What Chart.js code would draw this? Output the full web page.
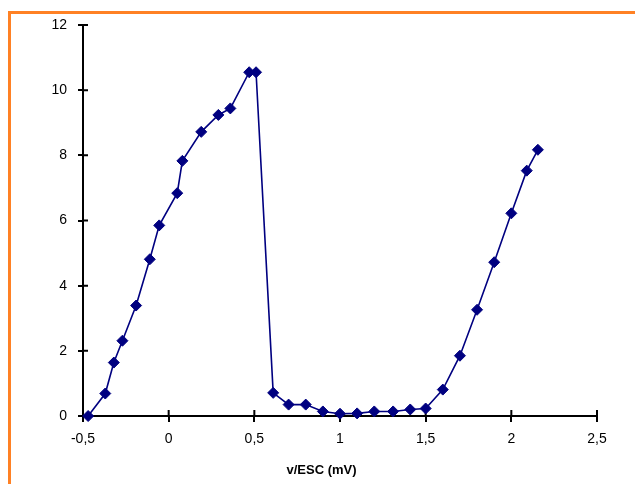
<!DOCTYPE html>
<html>
<head>
<meta charset="utf-8">
<script src="https://cdn.jsdelivr.net/npm/chart.js@4.4.1/dist/chart.umd.min.js"></script>
<style>
    html, body { margin: 0; padding: 0; background: #fff; }
    #wrap { position: relative; width: 635px; height: 484px; }
</style>
</head>
<body>
<div id="wrap"><canvas id="chart" width="635" height="484"></canvas></div>
<script>
// values
const potential = [-0.47, -0.37, -0.32, -0.27, -0.19, -0.11, -0.055, 0.05, 0.08, 0.19, 0.29, 0.36, 0.47, 0.51,
    0.61, 0.70, 0.80, 0.90, 1.00, 1.10, 1.20, 1.31, 1.41, 1.50, 1.60, 1.70, 1.80, 1.90, 2.00, 2.09, 2.155];
const current = [0, 0.69, 1.64, 2.31, 3.39, 4.81, 5.85, 6.84, 7.83, 8.72, 9.24, 9.44, 10.55, 10.55,
    0.71, 0.35, 0.35, 0.14, 0.07, 0.08, 0.14, 0.14, 0.2, 0.23, 0.81, 1.85, 3.26, 4.72, 6.22, 7.53, 8.17];
const xTicks = [-0.5, 0, 0.5, 1, 1.5, 2, 2.5];
const yTicks = [0, 2, 4, 6, 8, 10, 12];
const xTitle = "v/ESC (mV)";

const points = potential.map((v, i) => ({ x: v, y: current[i] }));
const FONT = "'Liberation Sans', Arial, sans-serif";
const commaLabel = v => String(Math.round(v * 10) / 10).replace(".", ",");

// orange frame of the original sheet (left + top edges)
const framePlugin = {
    id: "frame",
    beforeDraw(chart) {
        const ctx = chart.ctx;
        ctx.save();
        ctx.strokeStyle = "#ff8124";
        ctx.lineWidth = 3;
        ctx.beginPath();
        ctx.moveTo(9.5, chart.height);
        ctx.lineTo(9.5, 12.5);
        ctx.lineTo(chart.width, 12.5);
        ctx.stroke();
        ctx.restore();
    }
};

// inner half of the crossing tick marks
const innerTicks = {
    id: "innerTicks",
    beforeDatasetsDraw(chart) {
        const ctx = chart.ctx;
        const xs = chart.scales.x, ys = chart.scales.y;
        const area = chart.chartArea;
        ctx.save();
        ctx.strokeStyle = "#000";
        ctx.lineWidth = 2;
        ctx.beginPath();
        xTicks.forEach(t => {
            const px = xs.getPixelForValue(t);
            ctx.moveTo(px, area.bottom);
            ctx.lineTo(px, area.bottom - 6);
        });
        yTicks.forEach(t => {
            const py = ys.getPixelForValue(t);
            ctx.moveTo(area.left, py);
            ctx.lineTo(area.left + 5, py);
        });
        ctx.stroke();
        ctx.restore();
    }
};

new Chart(document.getElementById("chart"), {
    type: "line",
    data: {
        datasets: [{
            data: points,
            borderColor: "#000080",
            borderWidth: 1.6,
            pointStyle: "rectRot",
            pointRadius: 5.5,
            pointBackgroundColor: "#000080",
            pointBorderColor: "#000080",
            pointBorderWidth: 1,
            tension: 0,
            clip: false
        }]
    },
    options: {
        responsive: false,
        animation: false,
        layout: { padding: { left: 8, top: 25, right: 0, bottom: 2 } },
        scales: {
            x: {
                type: "linear",
                min: -0.5,
                max: 2.5,
                afterBuildTicks: s => { s.ticks = xTicks.map(v => ({ value: v })); },
                afterFit: s => { s.height = 46.4; },
                ticks: {
                    color: "#000",
                    padding: 9,
                    maxRotation: 0,
                    font: { family: FONT, size: 14 },
                    callback: commaLabel
                },
                grid: { drawOnChartArea: false, color: "#000", lineWidth: 2, tickLength: 6 },
                border: { color: "#000", width: 2 }
            },
            y: {
                min: 0,
                max: 12,
                afterBuildTicks: s => { s.ticks = yTicks.map(v => ({ value: v })); },
                afterFit: s => { s.width = 75; },
                ticks: {
                    color: "#000",
                    padding: 11,
                    font: { family: FONT, size: 14 }
                },
                grid: { drawOnChartArea: false, color: "#000", lineWidth: 2, tickLength: 5 },
                border: { color: "#000", width: 2 }
            },
            spacer: {
                position: "right",
                display: true,
                afterFit: s => { s.width = 38; },
                ticks: { display: false },
                grid: { display: false },
                border: { display: false }
            }
        },
        plugins: {
            legend: { display: false },
            tooltip: { enabled: false },
            title: {
                display: true,
                position: "bottom",
                text: xTitle,
                color: "#000",
                padding: { top: 0, bottom: 4 },
                font: { family: FONT, size: 13, weight: "bold" }
            }
        }
    },
    plugins: [framePlugin, innerTicks]
});
</script>
</body>
</html>
